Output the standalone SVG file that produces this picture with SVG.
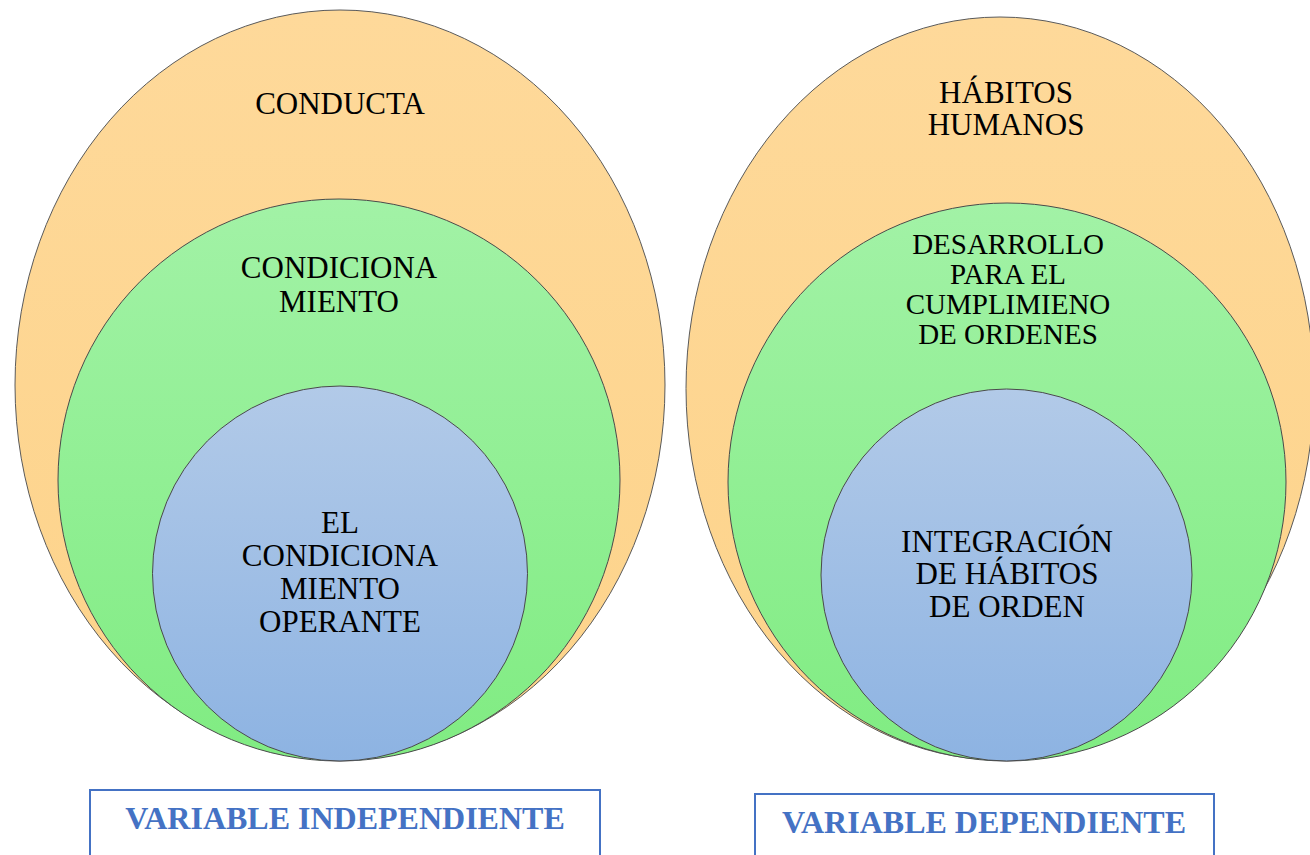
<svg xmlns="http://www.w3.org/2000/svg" width="1310" height="855" viewBox="0 0 1310 855">
<defs>
<linearGradient id="gOrange" x1="0" y1="0" x2="0" y2="1">
<stop offset="0" stop-color="#FED99A"/><stop offset="1" stop-color="#FDD38A"/>
</linearGradient>
<linearGradient id="gGreen" x1="0" y1="0" x2="0" y2="1">
<stop offset="0" stop-color="#A2F2A6"/><stop offset="1" stop-color="#80EC82"/>
</linearGradient>
<linearGradient id="gBlue" x1="0" y1="0" x2="0" y2="1">
<stop offset="0" stop-color="#B2CAE8"/><stop offset="1" stop-color="#8DB3E2"/>
</linearGradient>
<style>
.outer{fill:url(#gOrange);stroke:#5a5a5a;stroke-width:1}
.mid{fill:url(#gGreen);stroke:#4a4a4a;stroke-width:1}
.inner{fill:url(#gBlue);stroke:#4a4a4a;stroke-width:1}
.t{font-family:"Liberation Serif","Times New Roman",serif;font-size:31px;fill:#000;text-anchor:middle}
.t2{font-family:"Liberation Serif","Times New Roman",serif;font-size:29px;fill:#000;text-anchor:middle}
.box{fill:#fff;stroke:#4472C4;stroke-width:2}
.bt{font-family:"Liberation Serif","Times New Roman",serif;font-size:32px;font-weight:bold;fill:#4472C4;text-anchor:middle}
</style>
</defs>
<g id="left-outer">
<ellipse class="outer" cx="340" cy="385" rx="325" ry="375"/>
<text class="t" x="340" y="114">CONDUCTA</text>
</g>
<g id="left-mid">
<ellipse class="mid" cx="339" cy="480" rx="281" ry="281"/>
<text class="t" x="339" y="278">CONDICIONA</text>
<text class="t" x="339" y="312">MIENTO</text>
</g>
<g id="left-inner">
<ellipse class="inner" cx="340" cy="573.5" rx="187.5" ry="187.5"/>
<text class="t" x="340" y="533">EL</text>
<text class="t" x="340" y="566">CONDICIONA</text>
<text class="t" x="340" y="599">MIENTO</text>
<text class="t" x="340" y="632">OPERANTE</text>
</g>
<g id="right-outer">
<ellipse class="outer" cx="1000" cy="388.5" rx="314" ry="371.5"/>
<text class="t" x="1006" y="103">HÁBITOS</text>
<text class="t" x="1006" y="135">HUMANOS</text>
</g>
<g id="right-mid">
<ellipse class="mid" cx="1007" cy="482" rx="279" ry="279"/>
<text class="t2" x="1008" y="254">DESARROLLO</text>
<text class="t2" x="1008" y="284">PARA EL</text>
<text class="t2" x="1008" y="314">CUMPLIMIENO</text>
<text class="t2" x="1008" y="344">DE ORDENES</text>
</g>
<g id="right-inner">
<ellipse class="inner" cx="1006.5" cy="575" rx="185.5" ry="186"/>
<text class="t" x="1007" y="552">INTEGRACIÓN</text>
<text class="t" x="1007" y="584">DE HÁBITOS</text>
<text class="t" x="1007" y="617">DE ORDEN</text>
</g>
<g id="label-independiente">
<rect class="box" x="90" y="790" width="510" height="80"/>
<text class="bt" x="345" y="829">VARIABLE INDEPENDIENTE</text>
</g>
<g id="label-dependiente">
<rect class="box" x="755" y="794" width="459" height="80"/>
<text class="bt" x="984" y="833">VARIABLE DEPENDIENTE</text>
</g>
<g id="connectors"/>
</svg>
